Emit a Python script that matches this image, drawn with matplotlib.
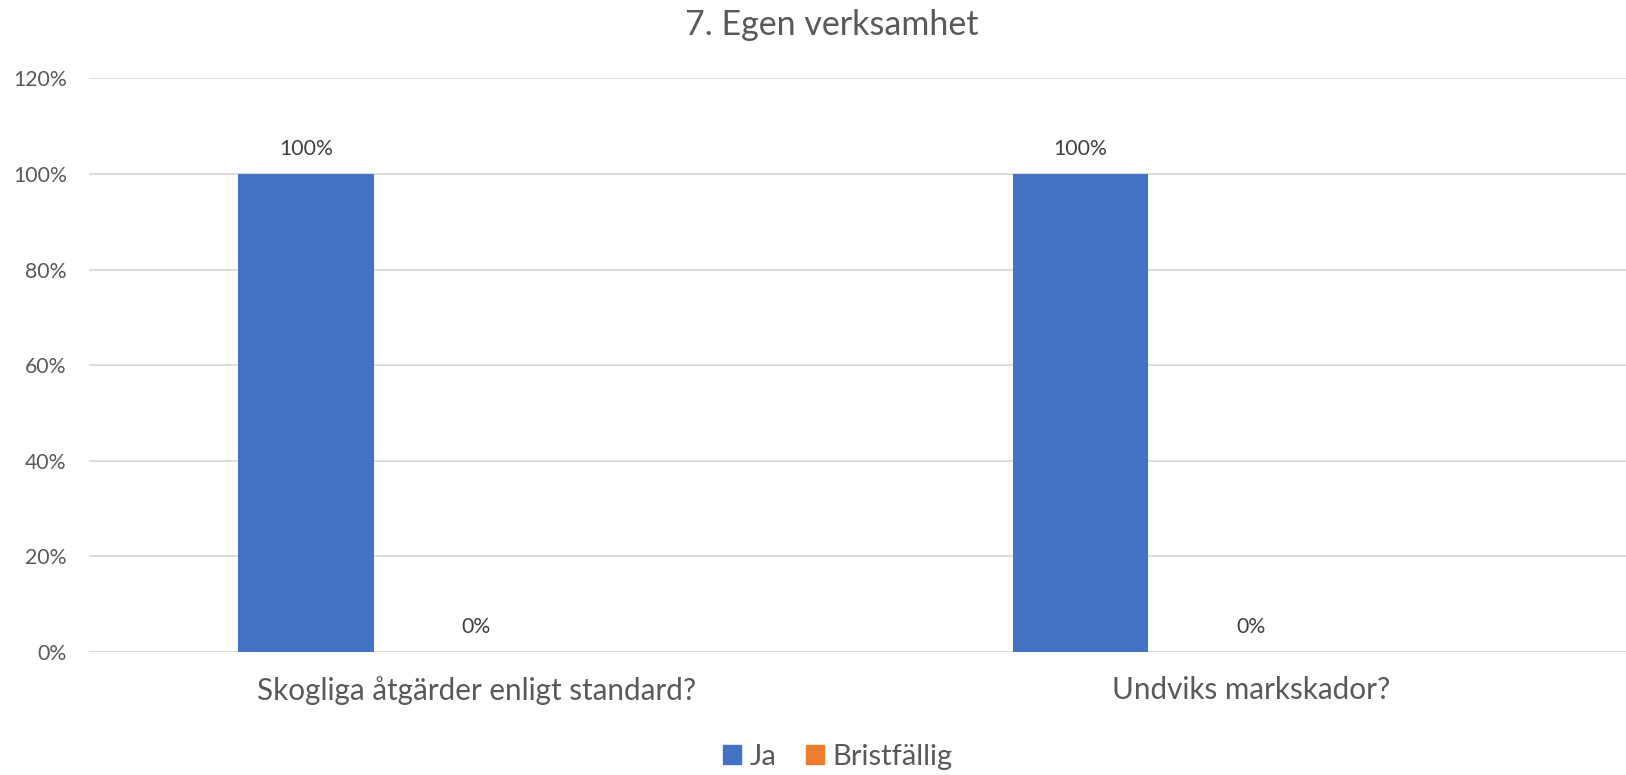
import matplotlib
matplotlib.use("Agg")
import matplotlib.pyplot as plt
import numpy as np
from matplotlib.patches import Patch

categories = ["Skogliga åtgärder enligt standard?", "Undviks markskador?"]
series_names = ["Ja", "Bristfällig"]
ja_values = [1.0, 1.0]
brist_values = [0.0, 0.0]
y_ticks = [0, 0.2, 0.4, 0.6, 0.8, 1.0, 1.2]
y_tick_labels = ["0%", "20%", "40%", "60%", "80%", "100%", "120%"]

plt.rcParams['font.family'] = ['Lato', 'DejaVu Sans']
TXT = "#595959"
W, H = 1626, 775
fig = plt.figure(figsize=(W / 100, H / 100), dpi=100)
left, right = 89, 1638
bottom, top = 652, 78.4
ax = fig.add_axes([left / W, 1 - bottom / H, (right - left) / W, (bottom - top) / H])

x = np.arange(len(categories))
bw = 0.175
off = 0.22
b1 = ax.bar(x - off, ja_values, bw, color="#4472C4", zorder=3)
b2 = ax.bar(x, brist_values, bw, color="#ED7D31", zorder=3)

for bars in (b1, b2):
    for r in bars:
        v = r.get_height()
        ax.annotate(f"{v*100:.0f}%", (r.get_x() + r.get_width() / 2, v),
                    xytext=(0, 18), textcoords="offset points", ha="center",
                    va="center", fontsize=15.3, color="#404040")

ax.set_xlim(-0.5, len(categories) - 0.5)
ax.set_ylim(0, 1.2)
ax.set_yticks(y_ticks)
ax.set_yticklabels(y_tick_labels, fontsize=15.3, color=TXT)
ax.set_xticks(x)
ax.set_xticklabels(categories, fontsize=21.3, color=TXT)
ax.tick_params(axis="y", length=0, pad=16)
ax.tick_params(axis="x", length=0, pad=17)
ax.grid(axis="y", color="#D9D9D9", linewidth=1.3, zorder=0)
for s in ax.spines.values():
    s.set_visible(False)
ax.axhline(0, color="#D9D9D9", linewidth=1.5, zorder=2)

fig.text(832 / W, 1 - 25 / H, "7. Egen verksamhet", ha="center", va="center",
         fontsize=24.5, color=TXT)

handles = [Patch(color="#4472C4", label=series_names[0]),
           Patch(color="#ED7D31", label=series_names[1])]
fig.legend(handles=handles, loc="center", bbox_to_anchor=(838 / W, 1 - 757 / H),
           ncol=2, frameon=False, fontsize=21, labelcolor=TXT,
           handlelength=0.62, handleheight=0.62, handletextpad=0.3,
           columnspacing=1.0)

fig.savefig("out.png", dpi=100, facecolor="white")
